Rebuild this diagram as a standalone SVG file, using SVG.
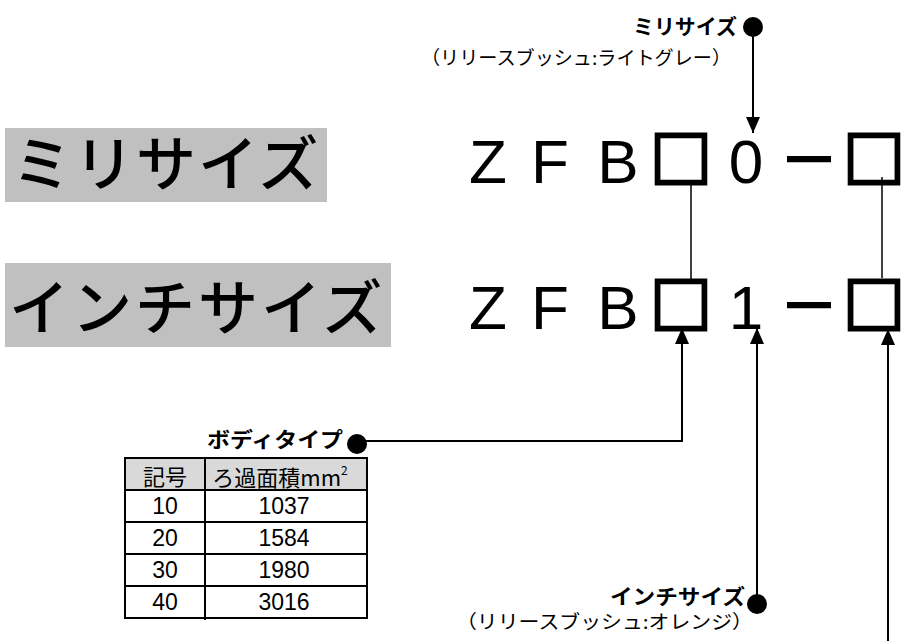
<svg xmlns="http://www.w3.org/2000/svg" width="905" height="641" viewBox="0 0 905 641">
<style>
.big{font-family:"Noto Sans CJK JP",sans-serif;font-weight:500;font-size:60px;fill:#000}
.code{font-family:"Liberation Sans",Arial,sans-serif;font-size:62px;fill:#000;text-anchor:middle}
.sym{font-family:"Noto Sans CJK JP",sans-serif;font-weight:700;stroke:#000;stroke-width:3}
.dash{font-family:"Noto Sans CJK JP",sans-serif;font-weight:700}
.lbl{font-family:"Noto Sans CJK JP",sans-serif;font-weight:700;font-size:21px;fill:#000}
.sub{font-family:"Noto Sans CJK JP",sans-serif;font-size:19px;fill:#000}
.cell{font-family:"Noto Sans CJK JP",sans-serif;font-size:22px;fill:#000;text-anchor:middle}
.num{font-family:"Liberation Sans",Arial,sans-serif;font-size:23px;fill:#000;text-anchor:middle}
.conn{stroke:#000;stroke-width:1.5;fill:none}
.arr{stroke:#000;stroke-width:2;fill:none}
.grid{stroke:#000;stroke-width:2;fill:none}
</style>
<defs>
<marker id="ah" markerUnits="userSpaceOnUse" markerWidth="16" markerHeight="16" viewBox="0 0 16 16" refX="16" refY="8" orient="auto">
<path d="M0,1 L16,8 L0,15 Z" fill="#000"/>
</marker>
</defs>
<rect width="905" height="641" fill="#fff"/>

<g id="label-mili">
<rect x="5" y="128" width="322" height="74" fill="#c0c0c0"/>
<text class="big" x="12" y="186" letter-spacing="2">ミリサイズ</text>
</g>
<g id="label-inch">
<rect x="5" y="263" width="386" height="84" fill="#c0c0c0"/>
<text class="big" x="9" y="330" letter-spacing="3">インチサイズ</text>
</g>

<g id="code-mili">
<text class="code" y="183"><tspan x="488">Z</tspan><tspan x="550">F</tspan><tspan x="618">B</tspan><tspan class="sym" x="681">□</tspan><tspan x="746">0</tspan><tspan class="dash" x="809">－</tspan><tspan class="sym" x="874">□</tspan></text>
</g>
<g id="code-inch">
<text class="code" y="329"><tspan x="488">Z</tspan><tspan x="550">F</tspan><tspan x="618">B</tspan><tspan class="sym" x="681">□</tspan><tspan x="746">1</tspan><tspan class="dash" x="809">－</tspan><tspan class="sym" x="874">□</tspan></text>
</g>

<g id="note-mili">
<text class="lbl" x="633" y="34" textLength="104" lengthAdjust="spacingAndGlyphs">ミリサイズ</text>
<circle cx="753" cy="27" r="10" fill="#000"/>
<text class="sub" x="421" y="65" textLength="310" lengthAdjust="spacingAndGlyphs">（リリースブッシュ:ライトグレー）</text>
</g>

<g id="note-body">
<text class="lbl" x="207" y="447" textLength="136" lengthAdjust="spacingAndGlyphs">ボディタイプ</text>
<circle cx="357" cy="444" r="10" fill="#000"/>
</g>

<g id="table-body">
<rect x="125" y="458" width="242" height="32" fill="#d9d9d9"/>
<path class="grid" d="M125,458 H367 V618 H125 Z M205,458 V620 M125,490 H367 M125,522 H367 M125,554 H367 M125,586 H367"/>
<text class="cell" x="165" y="485">記号</text>
<text class="cell" x="280" y="486">ろ過面積mm<tspan font-size="12" dy="-11">2</tspan></text>
<text class="num" x="165" y="514">10</text><text class="num" x="284" y="514">1037</text>
<text class="num" x="165" y="546">20</text><text class="num" x="284" y="546">1584</text>
<text class="num" x="165" y="578">30</text><text class="num" x="284" y="578">1980</text>
<text class="num" x="165" y="610">40</text><text class="num" x="284" y="610">3016</text>
</g>

<g id="note-inch">
<text class="lbl" x="610" y="604" textLength="135" lengthAdjust="spacingAndGlyphs">インチサイズ</text>
<circle cx="757" cy="604" r="10" fill="#000"/>
<text class="sub" x="456" y="629" textLength="297" lengthAdjust="spacingAndGlyphs">（リリースブッシュ:オレンジ）</text>
</g>

<g id="connectors">
<path class="conn" d="M691,185 V283"/>
<path class="conn" d="M882,177 V278"/>
<path class="arr" d="M753,27 V133" marker-end="url(#ah)"/>
<path class="arr" d="M357,441 H682 V328" marker-end="url(#ah)"/>
<path class="arr" d="M757,604 V328" marker-end="url(#ah)"/>
<path class="arr" d="M888,641 V329" marker-end="url(#ah)"/>
</g>
</svg>
